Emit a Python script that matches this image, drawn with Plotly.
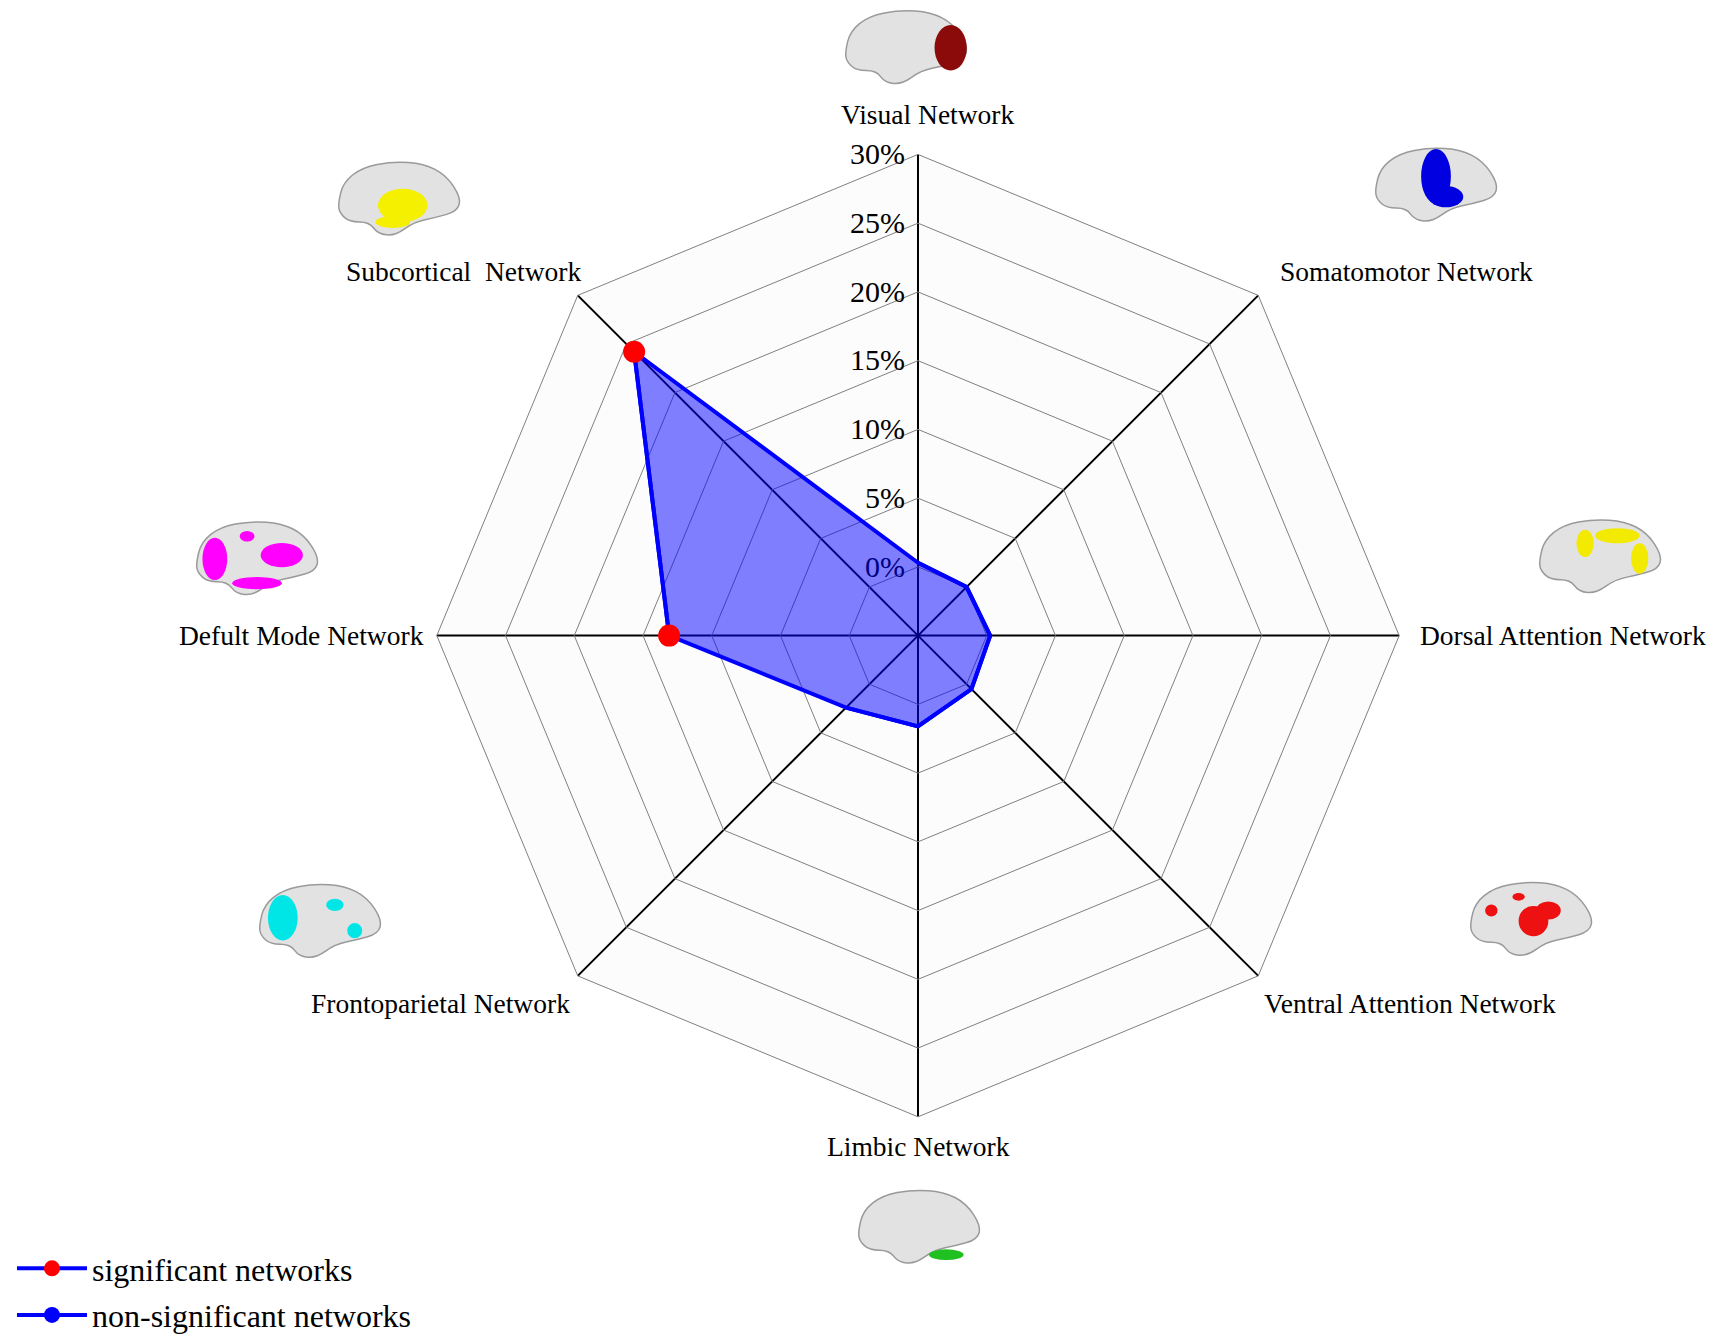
import math
import plotly.graph_objects as go

W, H = 1713, 1343

# ---- data ----
networks = [
    "Visual Network",
    "Somatomotor Network",
    "Dorsal Attention Network",
    "Ventral Attention Network",
    "Limbic Network",
    "Frontoparietal Network",
    "Defult Mode Network",
    "Subcortical  Network",
]
proportion = [0.3, 0.0, 0.25, 0.5, 1.6, 2.4, 13.1, 24.2]
significant = [False, False, False, False, False, False, True, True]
tick_vals = [0, 5, 10, 15, 20, 25, 30]
tick_text = ["0%", "5%", "10%", "15%", "20%", "25%", "30%"]
network_colors = ["#8b0a0a", "#0000e0", "#f2ea00", "#ee1111",
                  "#20c020", "#00e6e6", "#ff00ff", "#f4f000"]

SERIF = "Liberation Serif, Times New Roman, serif"
BLUE = "#0000ff"

# polar geometry (pixels)
CX, CY, R = 918, 638, 483
# label offsets from each octagon vertex (px, +y is up)
label_shift = [(9, 40), (18, 24), (17, 0), (2, -28),
               (0, -30), (-4, -28), (-9, 0), (7, 24)]


def px(x):
    return x / W


def py(y):
    return 1 - y / H


sig_idx = [i for i, s in enumerate(significant) if s]
non_idx = [i for i, s in enumerate(significant) if not s]

fig = go.Figure()

fig.add_trace(go.Scatterpolar(
    r=proportion + proportion[:1],
    theta=networks + networks[:1],
    mode="lines",
    fill="toself",
    fillcolor="rgba(0,0,255,0.5)",
    line=dict(color=BLUE, width=4),
    showlegend=False,
    hoverinfo="skip",
))
fig.add_trace(go.Scatterpolar(
    r=[proportion[i] for i in sig_idx],
    theta=[networks[i] for i in sig_idx],
    mode="lines+markers",
    line=dict(color=BLUE, width=4),
    marker=dict(color="#ff0000", size=22),
    name="significant networks",
    legendgroup="a",
))
fig.add_trace(go.Scatterpolar(
    r=[proportion[i] for i in non_idx],
    theta=[networks[i] for i in non_idx],
    mode="lines+markers",
    line=dict(color=BLUE, width=4),
    marker=dict(color=BLUE, size=17),
    name="non-significant networks",
    legendgroup="b",
))

# ---- category labels around the octagon ----
annotations = []
n = len(networks)
for k, name in enumerate(networks):
    a = 2 * math.pi * k / n
    s, c = math.sin(a), math.cos(a)
    vx, vy = CX + R * s, CY - R * c
    if s > 0.1:
        xanchor = "left"
    elif s < -0.1:
        xanchor = "right"
    else:
        xanchor = "center"
    dx, dy = label_shift[k]
    annotations.append(dict(
        x=px(vx + dx), y=py(vy - dy),
        xref="paper", yref="paper",
        text=name.replace("  ", "\u00a0 "),
        showarrow=False, xanchor=xanchor, yanchor="middle",
        font=dict(family=SERIF, size=27.5, color="black"),
    ))

# ---- simple brain icons ----
icon_pos = [(906, 48), (1436, 186), (1600, 559), (1531, 923),
            (919, 1232), (320, 925), (257, 561), (399, 200)]
icon_patches = [
    [(0.36, 0.0, 0.13, 0.30)],
    [(0.0, -0.12, 0.12, 0.36), (0.08, 0.15, 0.14, 0.14)],
    [(-0.12, -0.18, 0.07, 0.18), (0.14, -0.28, 0.18, 0.10), (0.32, 0.02, 0.07, 0.20)],
    [(0.02, 0.02, 0.12, 0.20), (0.14, -0.12, 0.10, 0.12), (-0.32, -0.12, 0.05, 0.08), (-0.1, -0.3, 0.05, 0.05)],
    [(0.22, 0.36, 0.14, 0.07)],
    [(-0.3, -0.05, 0.12, 0.3), (0.12, -0.22, 0.07, 0.08), (0.28, 0.12, 0.06, 0.1)],
    [(-0.34, 0.0, 0.1, 0.28), (0.2, -0.05, 0.17, 0.16), (0.0, 0.32, 0.2, 0.08), (-0.08, -0.3, 0.06, 0.07)],
    [(0.03, 0.08, 0.2, 0.22), (-0.05, 0.3, 0.14, 0.08)],
]
outline = [(-0.49, 0.05), (-0.45, -0.22), (-0.3, -0.42), (-0.05, -0.5),
           (0.2, -0.47), (0.38, -0.32), (0.5, -0.02), (0.47, 0.16),
           (0.3, 0.24), (0.12, 0.3), (-0.03, 0.48), (-0.17, 0.46),
           (-0.24, 0.3), (-0.4, 0.3), (-0.48, 0.18)]

shapes = []
bw, bh = 124, 76
for (ix, iy), patches, col in zip(icon_pos, icon_patches, network_colors):
    pts = [(px(ix + u * bw), py(iy + v * bh)) for u, v in outline]
    mids = [((pts[i][0] + pts[(i + 1) % len(pts)][0]) / 2,
             (pts[i][1] + pts[(i + 1) % len(pts)][1]) / 2) for i in range(len(pts))]
    path = "M %f,%f " % mids[-1]
    for i in range(len(pts)):
        path += "Q %f,%f %f,%f " % (pts[i][0], pts[i][1], mids[i][0], mids[i][1])
    path += "Z"
    shapes.append(dict(type="path", xref="paper", yref="paper", path=path,
                       fillcolor="#e2e2e2", line=dict(color="#9a9a9a", width=1.5)))
    for dx, dy, rx, ry in patches:
        shapes.append(dict(type="circle", xref="paper", yref="paper",
                           x0=px(ix + (dx - rx) * bw), x1=px(ix + (dx + rx) * bw),
                           y0=py(iy + (dy - ry) * bh), y1=py(iy + (dy + ry) * bh),
                           fillcolor=col, line=dict(width=0)))

fig.update_layout(
    width=W, height=H,
    margin=dict(l=0, r=0, t=0, b=0),
    paper_bgcolor="white",
    font=dict(family=SERIF, color="black"),
    polar=dict(
        domain=dict(x=[px(CX - R), px(CX + R)], y=[py(CY + R), py(CY - R)]),
        gridshape="linear",
        bgcolor="#fcfcfc",
        angularaxis=dict(
            type="category",
            categoryarray=networks,
            direction="clockwise",
            rotation=90,
            showticklabels=False,
            ticks="",
            gridcolor="black",
            gridwidth=1.6,
            showline=True,
            linecolor="#808080",
            linewidth=1,
            layer="below traces",
        ),
        radialaxis=dict(
            range=[-5, 30],
            tickvals=tick_vals,
            ticktext=tick_text,
            angle=90,
            tickangle=90,
            side="counterclockwise",
            ticks="outside",
            ticklen=2,
            tickcolor="rgba(0,0,0,0)",
            showline=False,
            gridcolor="#808080",
            gridwidth=1,
            tickfont=dict(family=SERIF, size=30, color="black"),
            layer="below traces",
        ),
    ),
    legend=dict(
        x=0.007, y=-0.004, xanchor="left", yanchor="bottom",
        font=dict(family=SERIF, size=32, color="black"),
        bgcolor="rgba(0,0,0,0)",
        traceorder="grouped",
        tracegroupgap=2,
        itemwidth=70,
    ),
    annotations=annotations,
    shapes=shapes,
)

fig.write_html("out.html", config={"displayModeBar": False},
               post_script="document.body.style.margin='0px';")
